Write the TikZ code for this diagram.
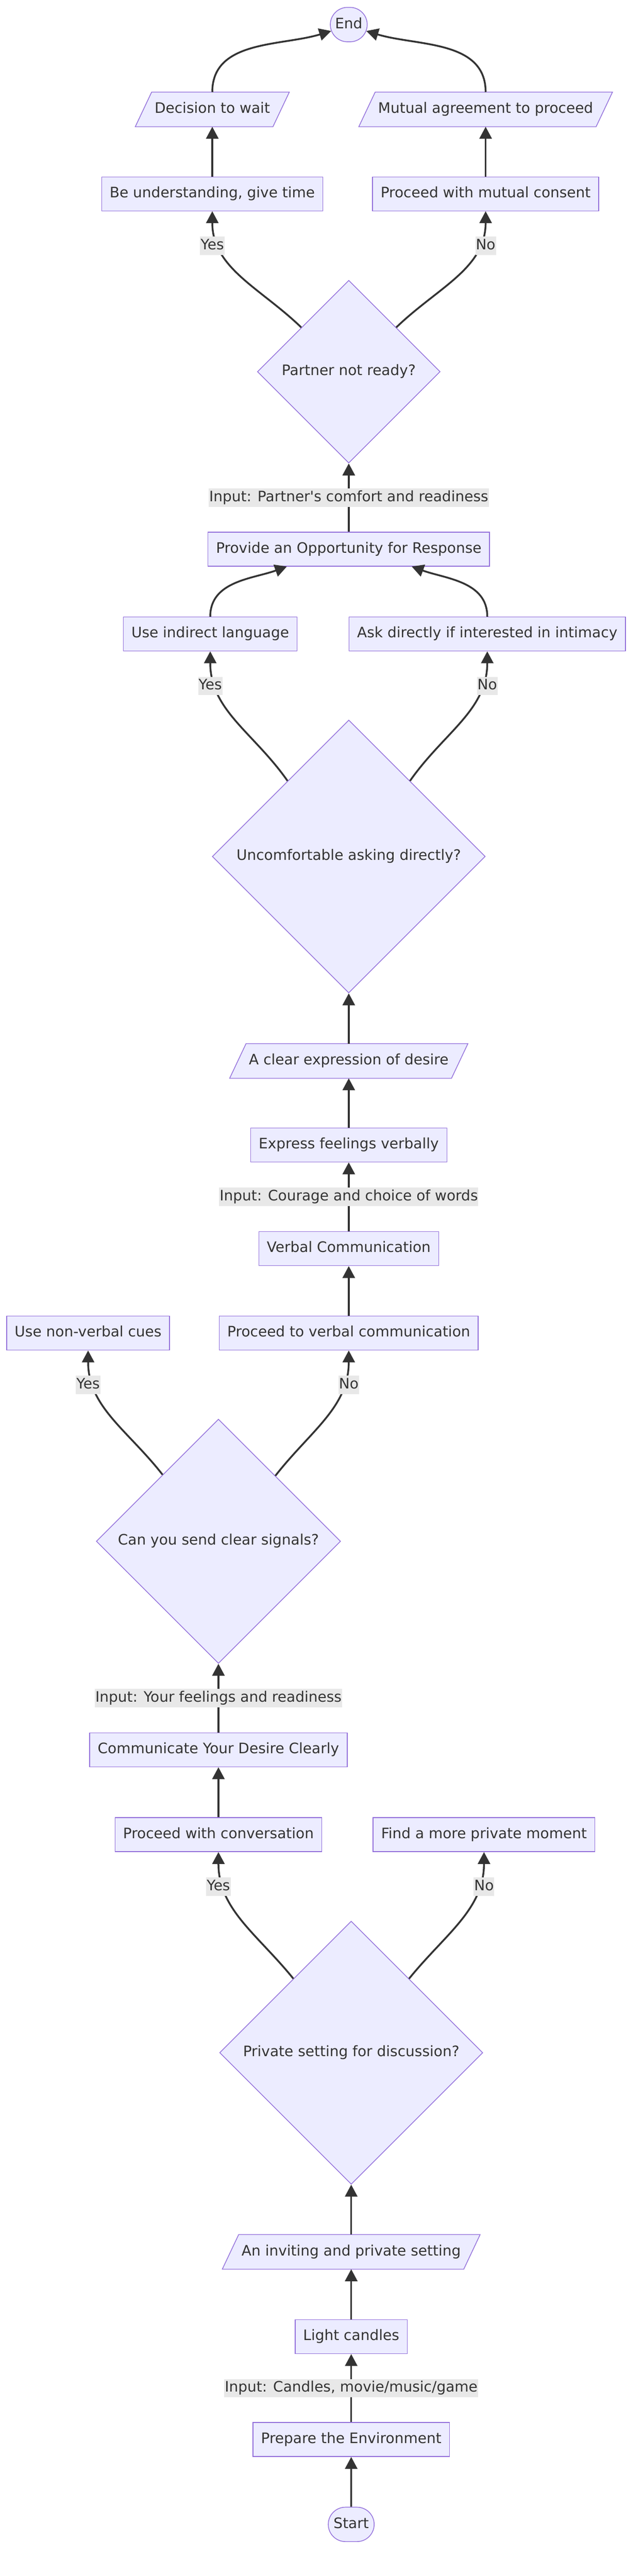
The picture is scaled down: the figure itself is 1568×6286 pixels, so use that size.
\documentclass[tikz,border=0pt]{standalone}
\usepackage{fontspec}
\setmainfont{DejaVu Sans}
\usetikzlibrary{arrows.meta,shapes.geometric,shapes.misc,backgrounds}
\definecolor{nodefill}{HTML}{ECECFF}
\definecolor{nodeline}{HTML}{9370DB}
\definecolor{ink}{HTML}{333333}
\definecolor{lblfill}{HTML}{E8E8E8}
\tikzset{
  base/.style={font=\fontsize{8.8pt}{10.6pt}\selectfont, text=ink, text height=6.7pt, text depth=2.1pt},
  proc/.style={base, rectangle, draw=nodeline, fill=nodefill, line width=0.45pt, inner xsep=4.9pt, inner ysep=0pt, minimum height=20.75pt},
  term/.style={base, rounded rectangle, draw=nodeline, fill=nodefill, line width=0.45pt, minimum height=21pt, inner xsep=4pt},
  io/.style={base, rectangle, inner xsep=6.6pt, inner ysep=0pt, minimum height=20.75pt},
  iobox/.style={draw=nodeline, fill=nodefill, line width=0.45pt},
  decision/.style={base, diamond, aspect=1, draw=nodeline, fill=nodefill, line width=0.45pt, inner sep=0pt},
  lbl/.style={base, fill=lblfill, inner xsep=0.3pt, inner ysep=1.2pt},
  flow/.style={draw=ink, line width=1.1pt, -{Triangle[width=7.5pt,length=7.3pt]}}
}
\begin{document}
\begin{tikzpicture}[x=0.25pt,y=0.25pt]
\useasboundingbox (0,0) rectangle (1568,-6286);
% nodes, from Start up to End
\node[term, minimum width=36pt] (start) at (857,-6160) {Start};
\node[proc] (prepare) at (857,-5953) {Prepare the Environment};
\node[proc] (candles) at (857,-5702) {Light candles};
\node[io] (setting) at (857,-5495) {An inviting and private setting};
\node[decision, minimum size=160.5pt] (dprivate) at (857,-5009) {Private setting for discussion?};
\node[proc] (conversation) at (533,-4477) {Proceed with conversation};
\node[proc] (moment) at (1181,-4477) {Find a more private moment};
\node[proc] (communicate) at (533,-4270) {Communicate Your Desire Clearly};
\node[decision, minimum size=149pt] (dsignals) at (533,-3761) {Can you send clear signals?};
\node[proc] (nonverbal) at (215,-3253) {Use non-verbal cues};
\node[proc] (toverbal) at (851,-3253) {Proceed to verbal communication};
\node[proc] (verbal) at (851,-3047) {Verbal Communication};
\node[proc] (express) at (851,-2794) {Express feelings verbally};
\node[io] (clear) at (851,-2589) {A clear expression of desire};
\node[decision, minimum size=166.5pt] (dask) at (851,-2090) {Uncomfortable asking directly?};
\node[proc] (indirect) at (513,-1547) {Use indirect language};
\node[proc] (direct) at (1189,-1547) {Ask directly if interested in intimacy};
\node[proc] (response) at (851,-1340) {Provide an Opportunity for Response};
\node[decision, minimum size=111.5pt] (dready) at (851,-907) {Partner not ready?};
\node[proc] (understand) at (518,-473) {Be understanding, give time};
\node[proc] (consent) at (1185,-473) {Proceed with mutual consent};
\node[io] (decide) at (518,-267) {Decision to wait};
\node[io] (agree) at (1185,-267) {Mutual agreement to proceed};
\node[term, minimum width=30.5pt] (stop) at (851,-60) {End};
% white page and slanted boxes behind the io texts
\begin{scope}[on background layer]
\fill[white] (0,0) rectangle (1568,-6286);
\foreach \n in {setting,clear,decide,agree}
  \path[iobox] ([xshift=-5pt]\n.south west) -- ([xshift=-5pt]\n.south east)
    -- ([xshift=5pt]\n.north east) -- ([xshift=5pt]\n.north west) -- cycle;
\end{scope}
% connectors
\draw[flow] (start) -- (prepare);
\draw[flow] (prepare) -- node[lbl] {Input: Candles, movie/music/game} (candles);
\draw[flow] (candles) -- (setting);
\draw[flow] (setting) -- (dprivate);
\draw[flow] (dprivate.128) to[out=129,in=-90] (conversation.south);
\draw[flow] (dprivate.52) to[out=51,in=-90] (moment.south);
\draw[flow] (conversation) -- (communicate);
\draw[flow] (communicate) -- node[lbl] {Input: Your feelings and readiness} (dsignals);
\draw[flow] (dsignals.130) to[out=128,in=-90] (nonverbal.south);
\draw[flow] (dsignals.49) to[out=52,in=-90] (toverbal.south);
\draw[flow] (toverbal) -- (verbal);
\draw[flow] (verbal) -- node[lbl] {Input: Courage and choice of words} (express);
\draw[flow] (express) -- (clear);
\draw[flow] (clear) -- (dask);
\draw[flow] (dask.129) to[out=125,in=-90] (indirect.south);
\draw[flow] (dask.51) to[out=55,in=-90] (direct.south);
\draw[flow] (indirect.north) to[out=90,in=200] ([xshift=-37.75pt]response.south);
\draw[flow] (direct.north) to[out=90,in=-20] ([xshift=38.4pt]response.south);
\draw[flow] (response) -- node[lbl] {Input: Partner\textquotesingle s comfort and readiness} (dready);
\draw[flow] (dready.137) to[out=136,in=-90] (understand.south);
\draw[flow] (dready.43) to[out=44,in=-90] (consent.south);
\draw[flow] (understand) -- (decide);
\draw[flow] (consent) -- (agree);
\draw[flow] (decide.north) to[out=90,in=197] (stop.200);
\draw[flow] (agree.north) to[out=90,in=-17] (stop.-20);
% yes / no labels
\node[lbl] (yes1) at (533,-4604) {Yes};
\node[lbl] (no1) at (1181,-4604) {No};
\node[lbl] (yes2) at (215,-3379) {Yes};
\node[lbl] (no2) at (851,-3379) {No};
\node[lbl] (yes3) at (513,-1674) {Yes};
\node[lbl] (no3) at (1189,-1674) {No};
\node[lbl] (yes4) at (518,-600) {Yes};
\node[lbl] (no4) at (1185,-600) {No};
\end{tikzpicture}
\end{document}
